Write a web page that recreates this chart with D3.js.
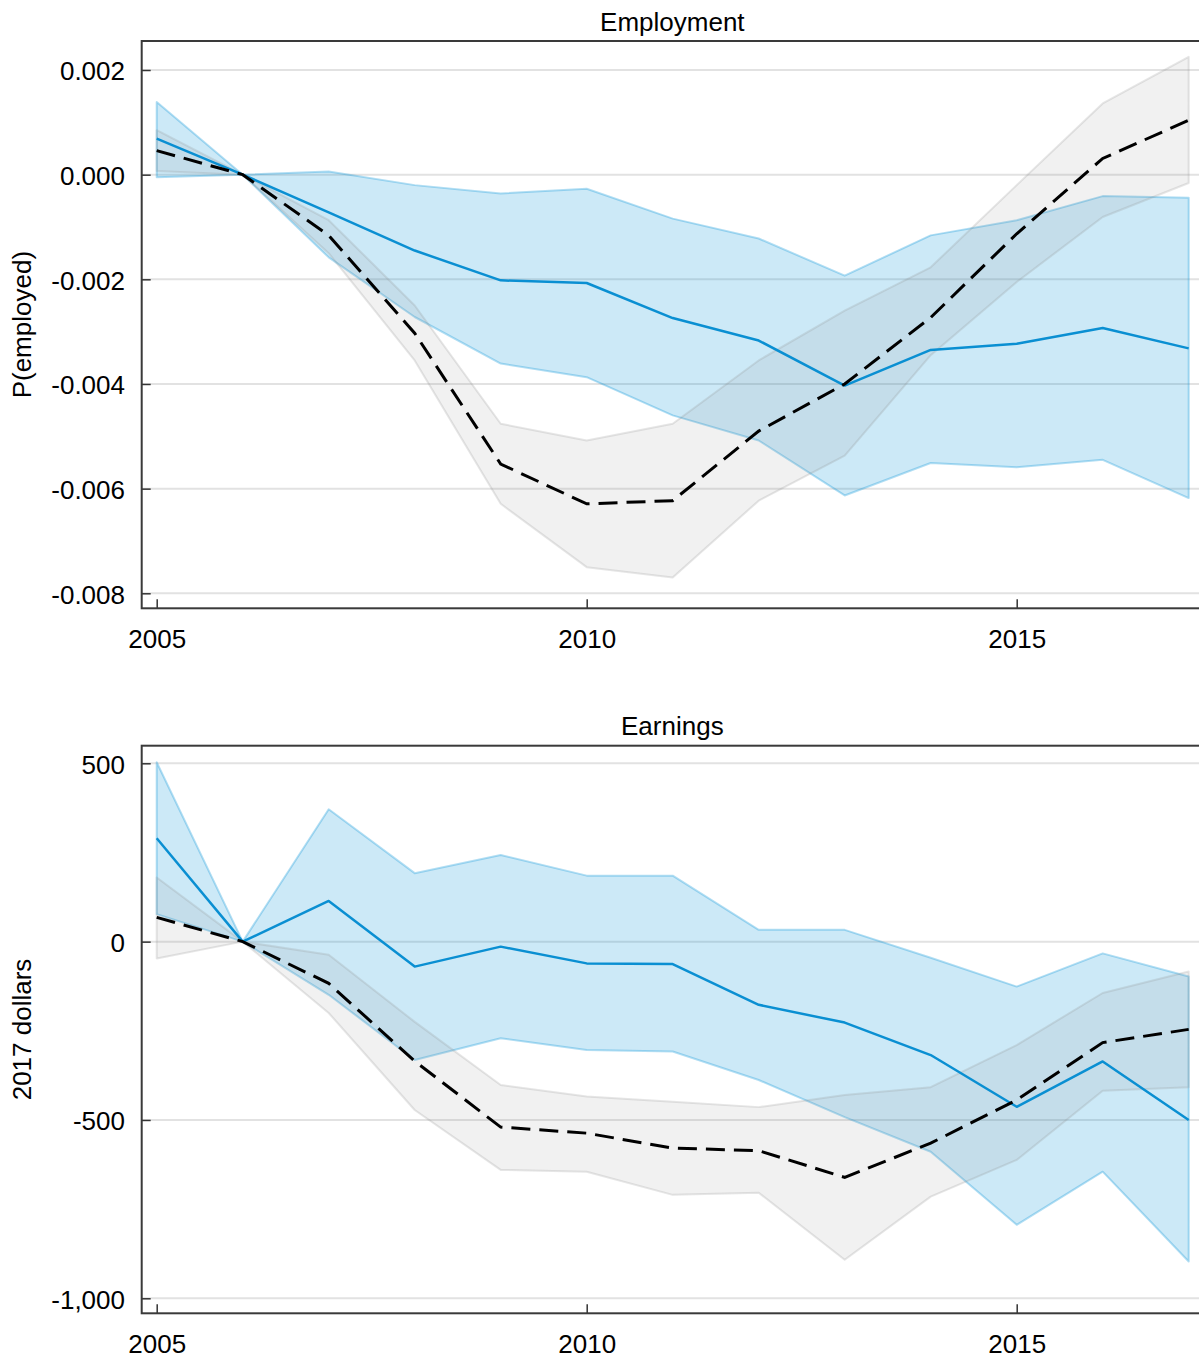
<!DOCTYPE html>
<html><head><meta charset="utf-8">
<script src="https://cdn.jsdelivr.net/npm/d3@7"></script>
<style>
body{margin:0;background:#fff;}
text{font-family:"Liberation Sans",Arial,sans-serif;fill:#000;}
</style></head>
<body><svg id="c" width="1199" height="1359"></svg>
<script>
const years = [2005,2006,2007,2008,2009,2010,2011,2012,2013,2014,2015,2016,2017];
const xTicks = [2005,2010,2015];

// Employment panel
const empTicks = [0.002,0,-0.002,-0.004,-0.006,-0.008];
const empEst   = [0.00069,0,-0.00072,-0.00145,-0.00202,-0.00207,-0.00274,-0.00317,-0.00403,-0.00335,-0.00323,-0.00293,-0.00332];
const empEstHi = [0.00139,0,0.00006,-0.00020,-0.00036,-0.00027,-0.00084,-0.00122,-0.00193,-0.00116,-0.00087,-0.00041,-0.00044];
const empEstLo = [-0.00005,0,-0.00158,-0.00272,-0.00361,-0.00387,-0.00460,-0.00508,-0.00613,-0.00551,-0.00559,-0.00545,-0.00618];
const empCmp   = [0.00046,0,-0.00116,-0.00303,-0.00553,-0.00629,-0.00623,-0.00490,-0.00400,-0.00273,-0.00113,0.00031,0.00104];
const empCmpHi = [0.00085,0,-0.00087,-0.00250,-0.00476,-0.00508,-0.00476,-0.00355,-0.00260,-0.00177,-0.00020,0.00136,0.00225];
const empCmpLo = [0.00007,0,-0.00150,-0.00355,-0.00629,-0.00750,-0.00770,-0.00623,-0.00537,-0.00345,-0.00205,-0.00081,-0.00016];

// Earnings panel
const earnTicks = [500,0,-500,-1000];
const earnEst   = [290,0,114,-70,-14,-61,-63,-177,-227,-318,-463,-336,-500];
const earnEstHi = [503,0,371,192,243,185,185,33,33,-45,-126,-33,-98];
const earnEstLo = [77,0,-149,-332,-271,-304,-308,-388,-492,-589,-794,-645,-897];
const earnCmp   = [68,0,-117,-335,-520,-537,-579,-586,-661,-565,-444,-283,-246];
const earnCmpHi = [180,0,-37,-225,-402,-434,-449,-464,-430,-408,-290,-144,-84];
const earnCmpLo = [-47,0,-200,-472,-640,-645,-710,-704,-892,-715,-612,-418,-408];

const svg = d3.select("#c");
const FL = 141.7, FR = 1203;
const x = d3.scaleLinear().domain([2005,2017]).range([156.7,1188.7]);
const hyph = f => d => f(d).replace(/\u2212/g,"-");

function panel(cfg){
  const g = svg.append("g");
  const y = d3.scaleLinear().domain(cfg.ydom).range(cfg.yrange);
  g.append("g").selectAll("line").data(cfg.ticks).join("line")
    .attr("x1",FL).attr("x2",FR).attr("y1",d=>y(d)).attr("y2",d=>y(d))
    .attr("stroke","#e2e2e2").attr("stroke-width",2);
  const bandPath = (lo,hi)=>{
    const up = years.map((yr,i)=>[x(yr),y(hi[i])]);
    const dn = years.map((yr,i)=>[x(yr),y(lo[i])]).reverse();
    return "M"+up.concat(dn).map(p=>p.join(",")).join("L")+"Z";
  };
  g.append("path").attr("d",bandPath(cfg.estLo,cfg.estHi))
    .attr("fill","rgba(0,146,214,0.2)").attr("stroke","rgba(0,146,214,0.3)").attr("stroke-width",2).attr("stroke-linejoin","round");
  g.append("path").attr("d",bandPath(cfg.cmpLo,cfg.cmpHi))
    .attr("fill","rgba(140,140,140,0.12)").attr("stroke","rgba(140,140,140,0.22)").attr("stroke-width",2).attr("stroke-linejoin","round");
  const line = d3.line().x((d,i)=>x(years[i])).y(d=>y(d));
  g.append("path").attr("d",line(cfg.est)).attr("fill","none")
    .attr("stroke","#0a8fd2").attr("stroke-width",2.5).attr("stroke-linejoin","round");
  g.append("path").attr("d",line(cfg.cmp)).attr("fill","none")
    .attr("stroke","#000").attr("stroke-width",3).attr("stroke-dasharray","19,9");
  const ya = g.append("g").attr("transform",`translate(${FL},0)`)
    .call(d3.axisLeft(y).tickValues(cfg.ticks).tickFormat(cfg.fmt).tickSizeInner(-9).tickSizeOuter(0).tickPadding(16.7));
  ya.select(".domain").remove();
  ya.selectAll("line").attr("stroke","#333").attr("stroke-width",1.5);
  ya.selectAll("text").attr("font-size",26).attr("font-family","Liberation Sans, Arial, sans-serif").attr("dy","0.38em");
  const yb = cfg.yframe[1];
  const xa = g.append("g").attr("transform",`translate(0,${yb})`)
    .call(d3.axisBottom(x).tickValues(xTicks).tickFormat(d3.format("d")).tickSizeInner(-9).tickSizeOuter(0).tickPadding(21));
  xa.select(".domain").remove();
  xa.selectAll("line").attr("stroke","#333").attr("stroke-width",1.5);
  xa.selectAll("text").attr("font-size",26).attr("font-family","Liberation Sans, Arial, sans-serif");
  g.append("rect").attr("x",FL).attr("y",cfg.yframe[0]).attr("width",FR-FL).attr("height",yb-cfg.yframe[0])
    .attr("fill","none").attr("stroke","#3a3a3a").attr("stroke-width",2);
  g.append("text").attr("x",(FL+FR)/2).attr("y",cfg.titleY).attr("text-anchor","middle")
    .attr("font-size",26).text(cfg.title);
  const cy = (cfg.yframe[0]+yb)/2;
  g.append("text").attr("transform",`translate(31,${cy}) rotate(-90)`).attr("text-anchor","middle")
    .attr("font-size",26).text(cfg.ylabel);
}

panel({ydom:[-0.008,0.002], yrange:[593.3,70], yframe:[41,608.3], ticks:empTicks,
  fmt:hyph(d3.format(".3f")), est:empEst, estHi:empEstHi, estLo:empEstLo, cmp:empCmp, cmpHi:empCmpHi, cmpLo:empCmpLo,
  title:"Employment", titleY:31, ylabel:"P(employed)"});
panel({ydom:[-1000,500], yrange:[1298.3,763.3], yframe:[745.7,1313.3], ticks:earnTicks,
  fmt:hyph(d3.format(",")), est:earnEst, estHi:earnEstHi, estLo:earnEstLo, cmp:earnCmp, cmpHi:earnCmpHi, cmpLo:earnCmpLo,
  title:"Earnings", titleY:735, ylabel:"2017 dollars"});
svg.selectAll("text").attr("fill","#000");
</script></body></html>
